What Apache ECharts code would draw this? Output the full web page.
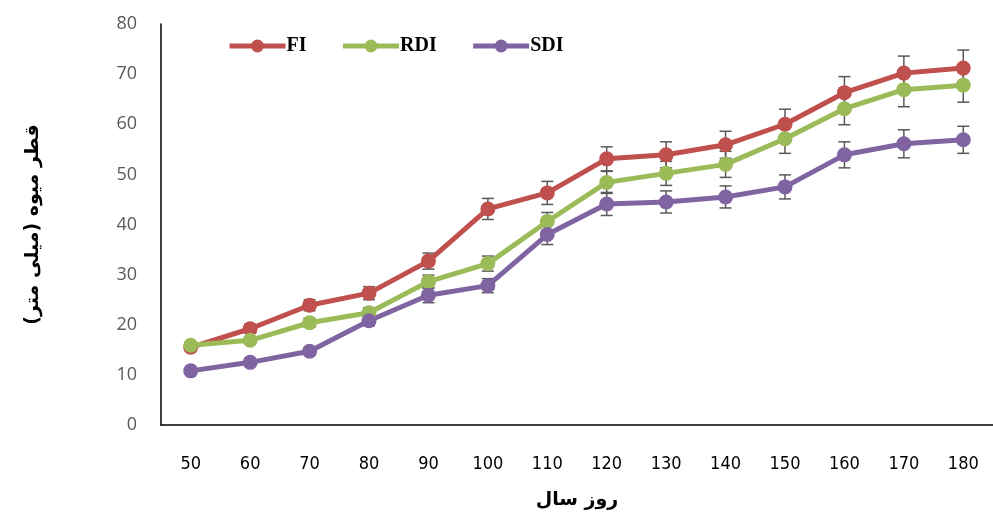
<!DOCTYPE html>
<html lang="fa">
<head>
    <meta charset="UTF-8">
    <script src="https://cdn.jsdelivr.net/npm/echarts/dist/echarts.min.js"></script>
    <style>
        body, html { margin: 0; padding: 0; width: 100%; height: 100%; background: #fff; }
        #chart { width: 993px; height: 515px; }
    </style>
</head>
<body>
    <div id="chart"></div>
    <script>
        // روز سال
        const days = ['50', '60', '70', '80', '90', '100', '110', '120', '130', '140', '150', '160', '170', '180'];
        const fi  = [15.5, 19.2, 23.9, 26.3, 32.7, 43.1, 46.3, 53.1, 53.9, 55.9, 60.0, 66.3, 70.2, 71.2];
        const rdi = [15.9, 16.9, 20.4, 22.4, 28.6, 32.2, 40.6, 48.4, 50.2, 52.0, 57.1, 63.1, 66.9, 67.8];
        const sdi = [10.8, 12.5, 14.7, 20.8, 25.9, 27.8, 38.0, 44.1, 44.5, 45.5, 47.5, 53.9, 56.1, 56.9];
        const fiErr  = [0.8, 0.9, 1.1, 1.3, 1.6, 2.1, 2.3, 2.4, 2.6, 2.7, 3.0, 3.2, 3.4, 3.6];
        const rdiErr = [0.6, 0.7, 0.9, 1.0, 1.3, 1.5, 1.8, 2.2, 2.4, 2.6, 2.9, 3.2, 3.4, 3.4];
        const sdiErr = [0.6, 0.7, 0.8, 1.0, 1.5, 1.4, 2.0, 2.3, 2.2, 2.2, 2.4, 2.6, 2.8, 2.7];

        const colors = { FI: '#C0504D', RDI: '#9BBB59', SDI: '#8064A2' };

        function errData(vals, errs) {
            return vals.map((v, i) => [i, v - errs[i], v + errs[i]]);
        }

        function errSeries(vals, errs) {
            return {
                type: 'custom',
                z: 1,
                silent: true,
                data: errData(vals, errs),
                renderItem: function (params, api) {
                    const lo = api.coord([api.value(0), api.value(1)]);
                    const hi = api.coord([api.value(0), api.value(2)]);
                    const w = 6;
                    const st = { stroke: '#595959', lineWidth: 1.5 };
                    return {
                        type: 'group',
                        children: [
                            { type: 'line', shape: { x1: lo[0], y1: lo[1], x2: hi[0], y2: hi[1] }, style: st },
                            { type: 'line', shape: { x1: lo[0] - w, y1: lo[1], x2: lo[0] + w, y2: lo[1] }, style: st },
                            { type: 'line', shape: { x1: hi[0] - w, y1: hi[1], x2: hi[0] + w, y2: hi[1] }, style: st }
                        ]
                    };
                }
            };
        }

        function lineSeries(name, vals) {
            return {
                name: name,
                type: 'line',
                z: 3,
                data: vals,
                symbol: 'circle',
                symbolSize: 15,
                lineStyle: { width: 5, color: colors[name] },
                itemStyle: { color: colors[name] }
            };
        }

        const chart = echarts.init(document.getElementById('chart'));
        chart.setOption({
            animation: false,
            legend: {
                data: ['FI', 'RDI', 'SDI'],
                left: 222,
                top: 31,
                itemWidth: 56,
                itemHeight: 16,
                itemGap: 34,
                lineStyle: { width: 5 },
                textStyle: { fontFamily: 'Liberation Serif', fontWeight: 'bold', fontSize: 20, color: '#000', padding: [0, 0, 0, -4] }
            },
            grid: { left: 161, top: 24, width: 835, height: 408 },
            xAxis: {
                type: 'category',
                data: days,
                axisLine: { lineStyle: { color: '#000', width: 1.5 } },
                axisTick: { show: false },
                axisLabel: { color: '#000', fontSize: 18, fontFamily: 'DejaVu Sans Condensed', margin: 30 },
                name: 'روز سال',
                nameLocation: 'middle',
                nameGap: 66,
                nameTextStyle: { fontFamily: 'DejaVu Sans', fontWeight: 'bold', fontSize: 19, color: '#000' }
            },
            yAxis: {
                type: 'value',
                min: 0,
                max: 80,
                interval: 10,
                splitLine: { show: false },
                axisLine: { show: true, lineStyle: { color: '#000', width: 1.5 } },
                axisTick: { show: false },
                axisLabel: { color: '#595959', fontSize: 18, fontFamily: 'Open Sans', margin: 24 },
                name: 'قطر میوه (میلی متر)',
                nameLocation: 'middle',
                nameRotate: 90,
                nameGap: 118,
                nameTextStyle: { fontFamily: 'DejaVu Sans', fontWeight: 'bold', fontSize: 19, color: '#000' }
            },
            series: [
                errSeries(fi, fiErr),
                errSeries(rdi, rdiErr),
                errSeries(sdi, sdiErr),
                lineSeries('FI', fi),
                lineSeries('RDI', rdi),
                lineSeries('SDI', sdi)
            ]
        });
    </script>
</body>
</html>
